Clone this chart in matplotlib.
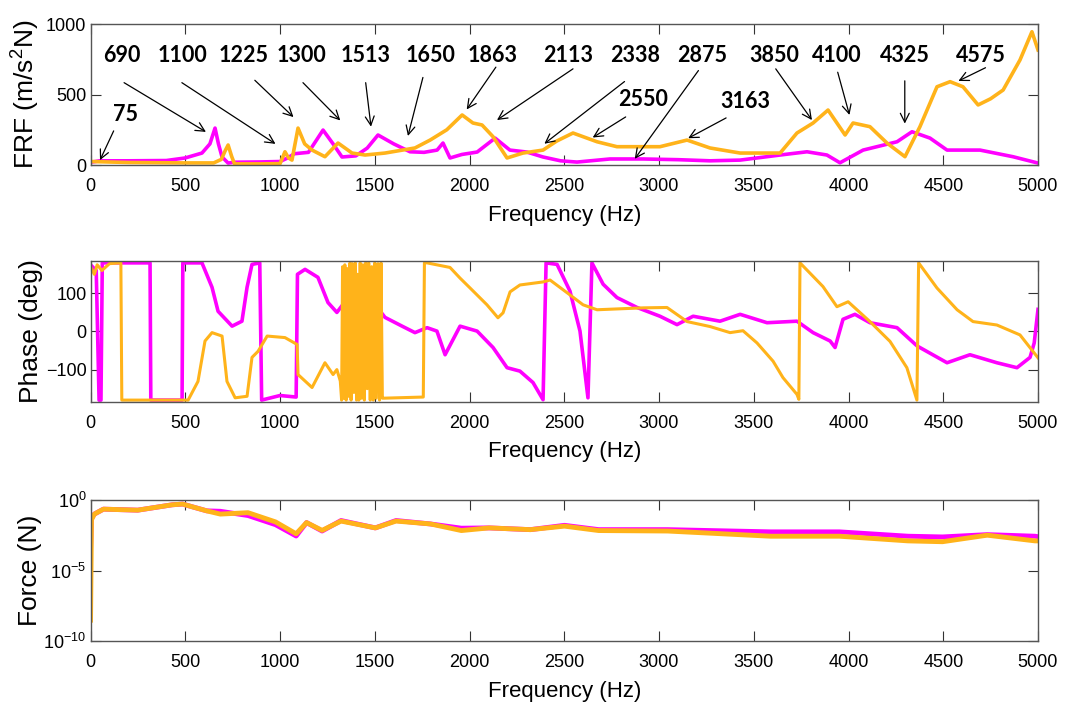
import numpy as np
import matplotlib
matplotlib.use('Agg')
import matplotlib.pyplot as plt
from matplotlib.ticker import NullLocator

plt.rcParams['font.family'] = ['Liberation Sans', 'DejaVu Sans']
plt.rcParams['mathtext.fontset'] = 'custom'
plt.rcParams['mathtext.rm'] = 'Liberation Sans'
plt.rcParams['mathtext.it'] = 'Liberation Sans:italic'
plt.rcParams['mathtext.bf'] = 'Liberation Sans:bold'

MAG = '#ff00ff'
ORA = '#ffb31a'

# ---- FRF magnitude (m/s^2/N) ----
frf_freq_m = [0, 50, 200, 400, 499, 588, 630, 657, 675, 694, 726, 760, 900, 1000,
              1040, 1075, 1150, 1227, 1280, 1327, 1400, 1460, 1517, 1600, 1686, 1760,
              1829, 1860, 1897, 1960, 2040, 2135, 2213, 2303, 2388, 2480, 2567, 2741,
              2916, 3100, 3269, 3428, 3639, 3781, 3886, 3955, 4077, 4256, 4335, 4430,
              4520, 4694, 4868, 5000]
frf_m = [20, 30, 30, 32, 50, 85, 150, 262, 150, 57, 14, 20, 22, 25,
         50, 80, 90, 248, 150, 57, 65, 120, 213, 150, 94, 90,
         106, 156, 50, 75, 92, 191, 106, 92, 57, 30, 21, 43,
         43, 38, 30, 35, 71, 94, 71, 16, 106, 165, 236, 191,
         106, 106, 59, 14]

frf_freq_o = [0, 200, 500, 650, 690, 710, 726, 745, 760, 900, 1000, 1026, 1045, 1063,
              1095, 1130, 1169, 1237, 1306, 1380, 1449, 1554, 1712, 1792, 1880, 1961,
              2018, 2066, 2124, 2198, 2282, 2388, 2460, 2546, 2673, 2778, 3005, 3148,
              3269, 3428, 3639, 3728, 3813, 3892, 3982, 4024, 4113, 4203, 4298, 4377,
              4467, 4536, 4604, 4684, 4750, 4816, 4905, 4968, 5000]
frf_o = [25, 18, 15, 15, 40, 100, 142, 60, 8, 8, 10, 94, 50, 35,
         262, 150, 106, 59, 156, 85, 71, 85, 121, 177, 250, 355,
         298, 284, 201, 50, 85, 106, 170, 227, 165, 130, 130, 177,
         121, 85, 85, 227, 298, 390, 213, 298, 272, 156, 59, 272,
         555, 591, 555, 426, 470, 532, 745, 945, 816]

# ---- phase (deg) ----
ph_freq_m = [0, 30, 45, 55, 62, 314, 318, 483, 487, 588, 641, 673, 747, 799, 826,
             852, 893, 903, 1000, 1085, 1092, 1132, 1200, 1253, 1300, 1332, 1422,
             1501, 1554, 1644, 1712, 1776, 1828, 1871, 1950, 2040, 2124, 2198, 2266,
             2335, 2388, 2404, 2462, 2530, 2583, 2625, 2646, 2705, 2778, 2884, 3005,
             3095, 3180, 3322, 3428, 3570, 3728, 3813, 3903, 3929, 3971, 4034, 4113,
             4256, 4362, 4520, 4641, 4783, 4889, 4958, 4980, 5000]
ph_m = [175, 160, -180, -180, 180, 180, -180, -180, 180, 180, 116, 53, 14, 27, 116,
        176, 180, -180, -168, -172, 150, 163, 142, 76, 50, 71, 110,
        71, 37, 14, -3, 10, 1, -61, 14, 1, -42, -95, -104,
        -134, -179, 180, 176, 106, 1, -174, 180, 124, 89, 63, 40,
        18, 40, 27, 45, 23, 27, -3, -25, -42, 32, 45, 23,
        10, -38, -82, -61, -82, -95, -68, -30, 58]

ph_freq_o = [0, 20, 35, 60, 100, 160, 165, 515, 567, 604, 641, 694, 720, 763, 826,
             852, 884, 932, 1026, 1090, 1095, 1169, 1237, 1280, 1300, 1318,
             1325, 1330, 1336, 1342, 1349, 1355, 1362, 1369, 1375, 1382, 1390, 1397,
             1404, 1410, 1416, 1423, 1430, 1437, 1445, 1452, 1460, 1468, 1476, 1484,
             1492, 1500, 1508, 1517, 1525, 1533, 1540,
             1545, 1756, 1762, 1776, 1897, 1950, 2003, 2092, 2150, 2177, 2214, 2266,
             2388, 2425, 2530, 2599, 2673, 2916, 3042, 3148, 3269, 3375, 3443, 3517,
             3602, 3654, 3728, 3738, 3744, 3865, 3939, 3998, 4113, 4219, 4308, 4361,
             4370, 4467, 4573, 4657, 4783, 4905, 5000]
ph_o = [170, 150, 175, 160, 178, 180, -180, -180, -131, -25, -3, -12, -131, -174, -170,
        -68, -52, -12, -16, -34, -113, -147, -82, -113, -100, -130,
        -180, 170, -175, 175, -180, 165, -170, 180, -180, 178, -160, 180,
        -180, 150, -180, 180, -175, 175, -180, 180, -150, 180, -180, 170,
        -180, 180, -175, 178, -180, 180, -175,
        -175, -172, 180, 180, 168, 140, 114, 70, 36, 49, 104, 122,
        130, 135, 96, 70, 57, 62, 63, 26, 13, -3, 2, -30,
        -78, -121, -165, -178, 180, 118, 65, 78, 26, -26, -95, -180,
        180, 114, 57, 26, 17, -9, -69]

# ---- input force (N) ----
force_freq = [0, 5, 20, 68, 249, 431, 486, 613, 685, 831, 976, 1085, 1140, 1222,
              1322, 1503, 1612, 1794, 1957, 2103, 2321, 2501, 2682, 3045, 3589,
              3952, 4314, 4496, 4732, 4984, 5000]
force_m = [3e-4, 0.05, 0.1, 0.224, 0.19, 0.457, 0.513, 0.17, 0.158, 0.079, 0.0178,
           0.0028, 0.025, 0.0063, 0.035, 0.0105, 0.035, 0.02, 0.01, 0.0105, 0.0079,
           0.016, 0.0079, 0.0079, 0.0055, 0.0055, 0.0027, 0.0024, 0.0035, 0.0027,
           0.0025]
force_o = [3e-9, 0.04, 0.1, 0.224, 0.19, 0.457, 0.513, 0.17, 0.1, 0.126, 0.028,
           0.004, 0.025, 0.007, 0.032, 0.0105, 0.032, 0.02, 0.0068, 0.0105, 0.0079,
           0.014, 0.0068, 0.0063, 0.0027, 0.0027, 0.00126, 0.0011, 0.0032, 0.00126,
           0.00126]

# ---- peak labels on the FRF plot ----
peak_labels = ['75', '690', '1100', '1225', '1300', '1513', '1650', '1863', '2113',
               '2338', '2550', '2875', '3163', '3850', '4100', '4325', '4575']
label_xy = [(186, 357), (167, 775), (485, 775), (809, 775), (1112, 775), (1449, 775),
            (1794, 775), (2121, 775), (2519, 775), (2872, 775), (2918, 463),
            (3226, 775), (3453, 451), (3607, 775), (3939, 775), (4297, 775),
            (4699, 775)]
arrow_from = [(122, 242), (177, 584), (482, 584), (867, 601), (1121, 584), (1452, 584),
              (1754, 621), (2139, 694), (2546, 682), (2818, 592), (2824, 341),
              (3208, 670), (3354, 334), (3616, 682), (3943, 658), (4297, 597),
              (4723, 690)]
arrow_to = [(50, 35), (609, 235), (976, 150), (1071, 340), (1318, 316), (1480, 272),
            (1675, 206), (1985, 394), (2145, 319), (2395, 151), (2650, 195),
            (2872, 44), (3154, 190), (3807, 319), (4005, 355), (4297, 294),
            (4580, 596)]


def style_axes(ax):
    ax.set_xlim(0, 5000)
    ax.set_xticks(np.arange(0, 5001, 500))
    ax.tick_params(direction='in', length=7.5, width=0.8, top=True, right=True,
                   labelsize=13, colors='#333333', labelcolor='black')
    ax.tick_params(axis='x', pad=9)
    ax.tick_params(axis='y', pad=3)
    for s in ax.spines.values():
        s.set_color('#555555')
        s.set_linewidth(1.0)
    ax.set_xlabel('Frequency (Hz)', fontsize=16)
    ax.xaxis.set_label_coords(0.5, -0.28)


fig = plt.figure(figsize=(10.69, 7.08), dpi=100)
ax1 = fig.add_axes([0.0847, 0.7669, 0.8863, 0.1992])
ax2 = fig.add_axes([0.0847, 0.4322, 0.8863, 0.1992])
ax3 = fig.add_axes([0.0847, 0.0946, 0.8863, 0.1992])

# FRF magnitude with labelled peaks
ax1.plot(frf_freq_m, frf_m, color=MAG, lw=2.6)
ax1.plot(frf_freq_o, frf_o, color=ORA, lw=2.6)
ax1.set_ylim(0, 1000)
ax1.set_yticks([0, 500, 1000])
style_axes(ax1)
ax1.set_ylabel('FRF (m/s$^2$N)', fontsize=19)
ax1.yaxis.set_label_coords(-0.051, 0.5)
for txt, xy, p0, p1 in zip(peak_labels, label_xy, arrow_from, arrow_to):
    ax1.text(xy[0], xy[1], txt, fontsize=15.5, fontweight='bold', family='Lato',
             ha='center', va='center')
    ax1.annotate('', xy=p1, xytext=p0,
                 arrowprops=dict(arrowstyle='->', color='black', lw=0.9,
                                 mutation_scale=16, shrinkA=0, shrinkB=0))

# phase
ax2.plot(ph_freq_m, ph_m, color=MAG, lw=2.6)
ax2.plot(ph_freq_o, ph_o, color=ORA, lw=2.2)
ax2.set_ylim(-185, 185)
ax2.set_yticks([-100, 0, 100])
style_axes(ax2)
ax2.set_ylabel('Phase (deg)', fontsize=19)
ax2.yaxis.set_label_coords(-0.05, 0.5)

# input force, log scale
ax3.semilogy(force_freq, force_m, color=MAG, lw=3.5)
ax3.semilogy(force_freq, force_o, color=ORA, lw=3.5)
ax3.set_ylim(1e-10, 1)
ax3.set_yticks([1e-10, 1e-5, 1])
ax3.yaxis.set_minor_locator(NullLocator())
style_axes(ax3)
ax3.set_ylabel('Force (N)', fontsize=19)
ax3.yaxis.set_label_coords(-0.051, 0.5)

fig.savefig('out.png', dpi=100)
